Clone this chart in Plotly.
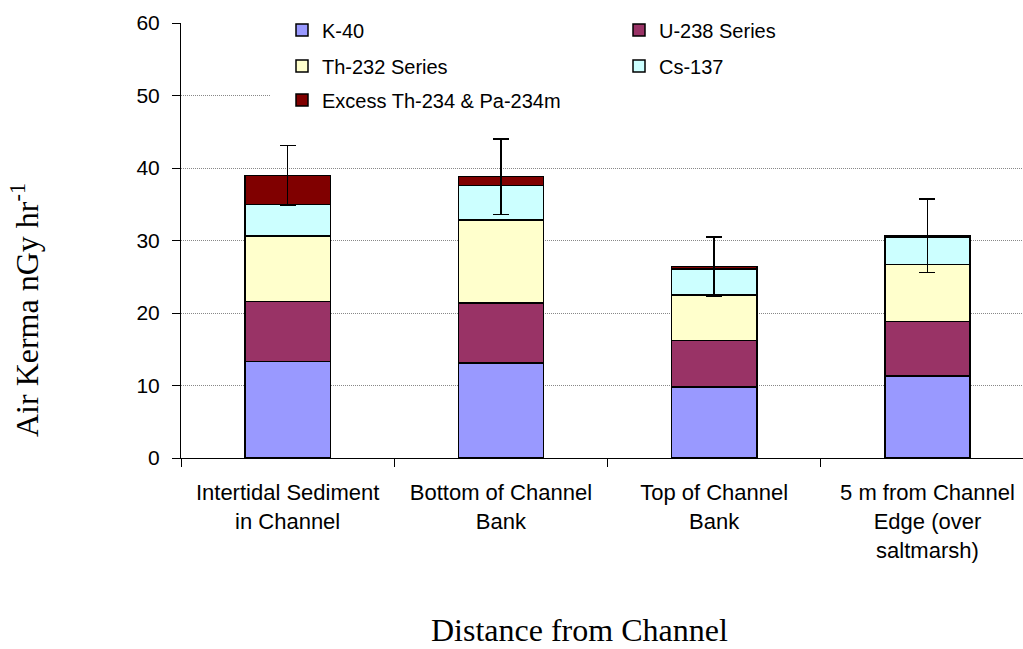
import plotly.graph_objects as go

categories = [
    "Intertidal Sediment<br>in Channel",
    "Bottom of Channel<br>Bank",
    "Top of Channel<br>Bank",
    "5 m from Channel<br>Edge (over<br>saltmarsh)",
]
k40 = [13.3, 13.1, 9.8, 11.3]
u238 = [8.3, 8.3, 6.4, 7.5]
th232 = [9.0, 11.4, 6.3, 7.9]
cs137 = [4.4, 4.8, 3.6, 3.8]
excess = [4.0, 1.2, 0.3, 0.15]
total_err = [4.1, 5.2, 4.1, 5.05]

series = [
    ("K-40", k40, "#9999FF", "legend"),
    ("U-238 Series", u238, "#993366", "legend"),
    ("Th-232 Series", th232, "#FFFFCC", "legend2"),
    ("Cs-137", cs137, "#CCFFFF", "legend2"),
    ("Excess Th-234 & Pa-234m", excess, "#800000", "legend3"),
]

fig = go.Figure()
for i, (name, vals, color, lg) in enumerate(series):
    kw = {}
    if i == len(series) - 1:
        kw["error_y"] = dict(type="data", array=total_err, visible=True,
                             color="black", thickness=1.5, width=8)
    fig.add_trace(go.Bar(
        x=categories, y=vals, name=name, legend=lg,
        marker=dict(color=color, line=dict(color="black", width=1.5)),
        width=0.4, **kw))

W, H = 1023, 649
L, R, T, B = 181, 0, 23, 191
pw = W - L - R
ph = H - T - B

def px_x(x):
    return (x - L) / pw

def px_y(y):
    return (H - B - y) / ph

legend_common = dict(orientation="h", xanchor="left", yanchor="middle",
                     x=px_x(282), traceorder="normal",
                     font=dict(family="Liberation Sans, Arial", size=20, color="black"),
                     bgcolor="rgba(0,0,0,0)", entrywidth=292, borderwidth=0)

fig.update_layout(
    width=W, height=H,
    margin=dict(l=L, r=R, t=T, b=B, pad=0),
    paper_bgcolor="white", plot_bgcolor="white",
    barmode="stack",
    showlegend=True,
    legend=dict(y=px_y(30), **legend_common),
    legend2=dict(y=px_y(66), **legend_common),
    legend3=dict(y=px_y(100), **legend_common),
    font=dict(family="Liberation Sans, Arial", color="black"),
    shapes=[dict(type="rect", xref="paper", yref="paper",
                 x0=px_x(271), x1=1.0, y0=px_y(120), y1=px_y(10),
                 fillcolor="white", line=dict(width=0), layer="above")],
    annotations=[
        dict(text="Air Kerma nGy hr<sup>-1</sup>", xref="paper", yref="paper",
             x=px_x(25), y=px_y(310), xanchor="center", yanchor="middle",
             textangle=-90, showarrow=False,
             font=dict(family="Liberation Serif, Times New Roman", size=32, color="black")),
        dict(text="Distance from Channel", xref="paper", yref="paper",
             x=px_x(579), y=px_y(630), xanchor="center", yanchor="middle",
             showarrow=False,
             font=dict(family="Liberation Serif, Times New Roman", size=32, color="black")),
    ],
)

fig.update_xaxes(
    type="category", range=[-0.5, 3.448],
    showline=True, linecolor="black", linewidth=1,
    ticks="outside", ticklen=8, tickcolor="black", tickson="boundaries",
    ticklabelstandoff=15,
    tickfont=dict(family="Liberation Sans, Arial", size=22, color="black"),
    showgrid=False, zeroline=False,
)
fig.update_yaxes(
    range=[0, 60], dtick=10,
    showline=True, linecolor="black", linewidth=1,
    ticks="outside", ticklen=8, tickcolor="black",
    ticklabelstandoff=8,
    tickfont=dict(family="Liberation Sans, Arial", size=21, color="black"),
    showgrid=True, gridcolor="#888888", gridwidth=1, griddash="1px,1px",
    zeroline=False,
)

fig.write_html("out.html",
               config={"displayModeBar": False},
               post_script="document.body.style.margin='0';document.body.style.padding='0';document.body.style.overflow='hidden';")
